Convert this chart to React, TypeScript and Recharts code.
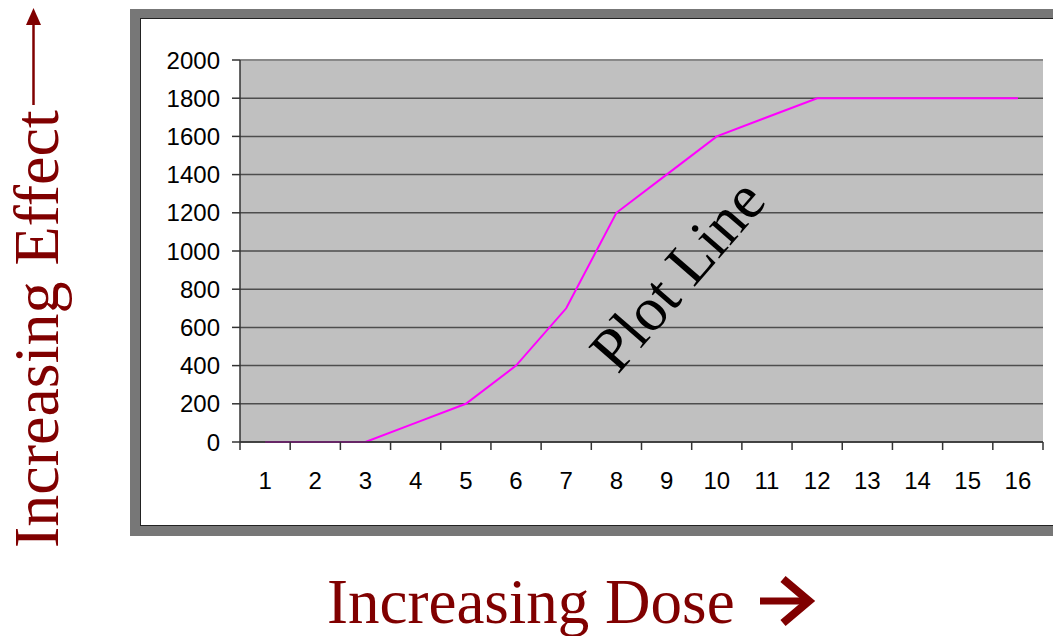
import { LineChart, Line, XAxis, YAxis, CartesianGrid, ReferenceLine } from 'recharts'

const doses = ['1', '2', '3', '4', '5', '6', '7', '8', '9', '10', '11', '12', '13', '14', '15', '16']
const effect = [0, 0, 0, 100, 200, 400, 700, 1200, 1400, 1600, 1700, 1800, 1800, 1800, 1800, 1800]
const effectTicks = [0, 200, 400, 600, 800, 1000, 1200, 1400, 1600, 1800, 2000]

const chartData = doses.map((d, i) => ({ dose: d, effect: effect[i] }))

const TICK_SIZE = 8
const TICK_MARGIN = 22
const titleColor = '#800000'
const serif = '"Liberation Serif", "Times New Roman", serif'
const sans = '"Liberation Sans", Arial, sans-serif'

// ticks sit on the band edges, labels in the middle of each band
function DoseTick(props: any) {
  const { x, y, payload } = props
  const half = payload?.offset || 25
  const axisY = y - TICK_SIZE - TICK_MARGIN
  const isLast = payload?.value === doses[doses.length - 1]
  return (
    <g>
      <line x1={x - half} x2={x - half} y1={axisY} y2={axisY + TICK_SIZE} stroke="#333" strokeWidth={1.5} />
      {isLast && (
        <line x1={x + half} x2={x + half} y1={axisY} y2={axisY + TICK_SIZE} stroke="#333" strokeWidth={1.5} />
      )}
      <text x={x} y={y} dy="0.71em" textAnchor="middle" fontSize={24} fill="#000" fontFamily={sans}>
        {payload.value}
      </text>
    </g>
  )
}

export default function App() {
  return (
    <div
      style={{
        position: 'fixed',
        left: 0,
        top: 0,
        width: 1053,
        height: 636,
        overflow: 'hidden',
        background: '#fff',
      }}
    >
      {/* chart frame */}
      <div style={{ position: 'absolute', left: 130, top: 9, width: 1000, height: 527, background: '#777' }} />
      <div
        style={{
          position: 'absolute',
          left: 140,
          top: 18,
          width: 990,
          height: 508,
          background: '#fff',
          border: '1px solid #222',
          boxSizing: 'border-box',
        }}
      />

      <div style={{ position: 'absolute', left: 0, top: 0 }}>
        <LineChart
          width={1053}
          height={636}
          data={chartData}
          margin={{ top: 60, right: 10, bottom: 154, left: 160 }}
        >
          <CartesianGrid vertical={false} fill="#c0c0c0" stroke="#4d4d4d" strokeWidth={1.5} />
          <XAxis
            dataKey="dose"
            scale="band"
            height={40}
            axisLine={{ stroke: '#333', strokeWidth: 1.5 }}
            tickLine={false}
            tickSize={TICK_SIZE}
            tickMargin={TICK_MARGIN}
            interval={0}
            tick={<DoseTick />}
          />
          <YAxis
            width={80}
            domain={[0, 2000]}
            ticks={effectTicks}
            interval={0}
            axisLine={{ stroke: '#333', strokeWidth: 1.5 }}
            tickLine={{ stroke: '#333', strokeWidth: 1.5 }}
            tickSize={TICK_SIZE}
            tickMargin={12}
            tick={{ fontSize: 24, fill: '#000', fontFamily: sans }}
          />
          <YAxis
            yAxisId="frame"
            orientation="right"
            width={0}
            domain={[0, 2000]}
            tick={false}
            tickLine={false}
            axisLine={{ stroke: '#888', strokeWidth: 2 }}
          />
          <ReferenceLine y={2000} stroke="#888" strokeWidth={2} />
          <Line
            type="linear"
            dataKey="effect"
            stroke="#ff00ff"
            strokeWidth={2}
            dot={false}
            isAnimationActive={false}
          />
        </LineChart>
      </div>

      {/* titles and annotation */}
      <svg
        width={1053}
        height={636}
        style={{ position: 'absolute', left: 0, top: 0, pointerEvents: 'none' }}
      >
        <text
          transform="translate(677,275) rotate(-49)"
          textAnchor="middle"
          dominantBaseline="central"
          fontSize={62}
          fontFamily={serif}
          fill="#000"
        >
          Plot Line
        </text>
        <text
          transform="translate(58,548) rotate(-90)"
          fontSize={64}
          fontFamily={serif}
          fill={titleColor}
        >
          Increasing Effect
        </text>
        <line x1={33.5} x2={33.5} y1={105} y2={22} stroke={titleColor} strokeWidth={2.5} />
        <polygon points="33.5,8 26,25 41,25" fill={titleColor} />
        <text x={327} y={623} fontSize={63} fontFamily={serif} fill={titleColor}>
          Increasing Dose
        </text>
        <line x1={760} x2={804} y1={601} y2={601} stroke={titleColor} strokeWidth={7} />
        <polyline
          points="783,579 809,601 783,623"
          fill="none"
          stroke={titleColor}
          strokeWidth={8}
          strokeLinejoin="miter"
        />
      </svg>
    </div>
  )
}
